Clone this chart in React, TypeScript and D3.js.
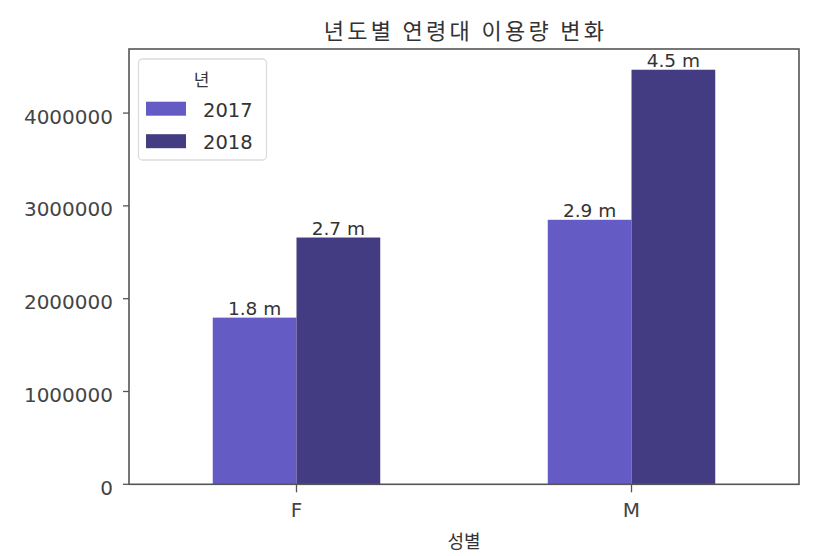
import React from "react";
import * as d3 from "d3";

const categories = ["F", "M"];
const years = ["2017", "2018"];
const values2017 = [1796000, 2850000];
const values2018 = [2659000, 4467000];
const yTicks = [0, 1000000, 2000000, 3000000, 4000000];
const colors = ["#655bc4", "#443c82"];

const title = "년도별 연령대 이용량 변화";
const xLabel = "성별";
const legendTitle = "년";

const width = 820;
const height = 556;
const margin = { top: 49, right: 21, bottom: 71.7, left: 129 };

const FONT = "'DejaVu Sans', 'Noto Sans CJK KR', sans-serif";
const KFONT = "'Noto Sans CJK KR', 'DejaVu Sans', sans-serif";

const Chart = () => {
  const series = [values2017, values2018];
  const maxVal = d3.max(series.flat()) ?? 0;

  const xScale = d3
    .scaleLinear()
    .domain([-0.5, categories.length - 0.5])
    .range([margin.left, width - margin.right]);
  const yScale = d3
    .scaleLinear()
    .domain([0, maxVal * 1.05])
    .range([height - margin.bottom, margin.top]);

  const barW = 0.25;
  const x0 = margin.left;
  const x1 = width - margin.right;
  const y0 = height - margin.bottom;
  const y1 = margin.top;

  const bars = series.map((vals, j) =>
    vals.map((v, i) => {
      const left = xScale(i - barW + j * barW);
      const right = xScale(i + j * barW);
      const top = yScale(v);
      return (
        <g key={`bar/${j}/${i}`}>
          <rect x={left} y={top} width={right - left} height={y0 - top} fill={colors[j]} />
          <text
            x={(left + right) / 2}
            y={top - 3}
            textAnchor="middle"
            fontFamily={FONT}
            fontSize={18.5}
            fill="#333"
          >
            {(v / 1e6).toFixed(1)} m
          </text>
        </g>
      );
    })
  );

  const yAxis = yTicks.map((t) => (
    <g key={`y/${t}`}>
      <line x1={x0 - 6} x2={x0} y1={yScale(t)} y2={yScale(t)} stroke="#555" strokeWidth={1.3} />
      <text
        x={x0 - 16}
        y={yScale(t) + 10.5}
        textAnchor="end"
        fontFamily={FONT}
        fontSize={20}
        fill="#444"
      >
        {t}
      </text>
    </g>
  ));

  const xAxis = categories.map((c, i) => (
    <g key={`x/${c}`}>
      <line x1={xScale(i)} x2={xScale(i)} y1={y0} y2={y0 + 8} stroke="#555" strokeWidth={1.3} />
      <text
        x={xScale(i)}
        y={516.7}
        textAnchor="middle"
        fontFamily={FONT}
        fontSize={20}
        fill="#444"
      >
        {c}
      </text>
    </g>
  ));

  // legend
  const lx = 138.5;
  const ly = 59;
  const legend = (
    <g>
      <rect
        x={lx}
        y={ly}
        width={128}
        height={101}
        rx={4}
        fill="white"
        fillOpacity={0.8}
        stroke="#dcdcdc"
        strokeWidth={1.3}
      />
      <text x={lx + 63} y={ly + 27} textAnchor="middle" fontFamily={KFONT} fontSize={17} fill="#333">
        {legendTitle}
      </text>
      {years.map((yr, j) => (
        <g key={`leg/${yr}`}>
          <rect x={lx + 7.5} y={ly + 42.7 + j * 32.5} width={40} height={14} fill={colors[j]} />
          <text x={lx + 64.5} y={ly + 57.7 + j * 32.5} fontFamily={FONT} fontSize={19.5} fill="#333">
            {yr}
          </text>
        </g>
      ))}
    </g>
  );

  return (
    <svg width={width} height={height} style={{ position: "absolute", left: 0, top: 0 }}>
      <rect width={width} height={height} fill="white" />
      <text
        x={(x0 + x1) / 2 + 1.5}
        y={39}
        textAnchor="middle"
        fontFamily={KFONT}
        fontSize={22}
        letterSpacing={3.3}
        fill="#333"
      >
        {title}
      </text>
      {bars}
      {yAxis}
      {xAxis}
      <rect x={x0} y={y1} width={x1 - x0} height={y0 - y1} fill="none" stroke="#555" strokeWidth={1.6} />
      {legend}
      <text x={(x0 + x1) / 2} y={548} textAnchor="middle" fontFamily={KFONT} fontSize={18} fill="#333">
        {xLabel}
      </text>
    </svg>
  );
};

export default function App() {
  return <Chart />;
}
